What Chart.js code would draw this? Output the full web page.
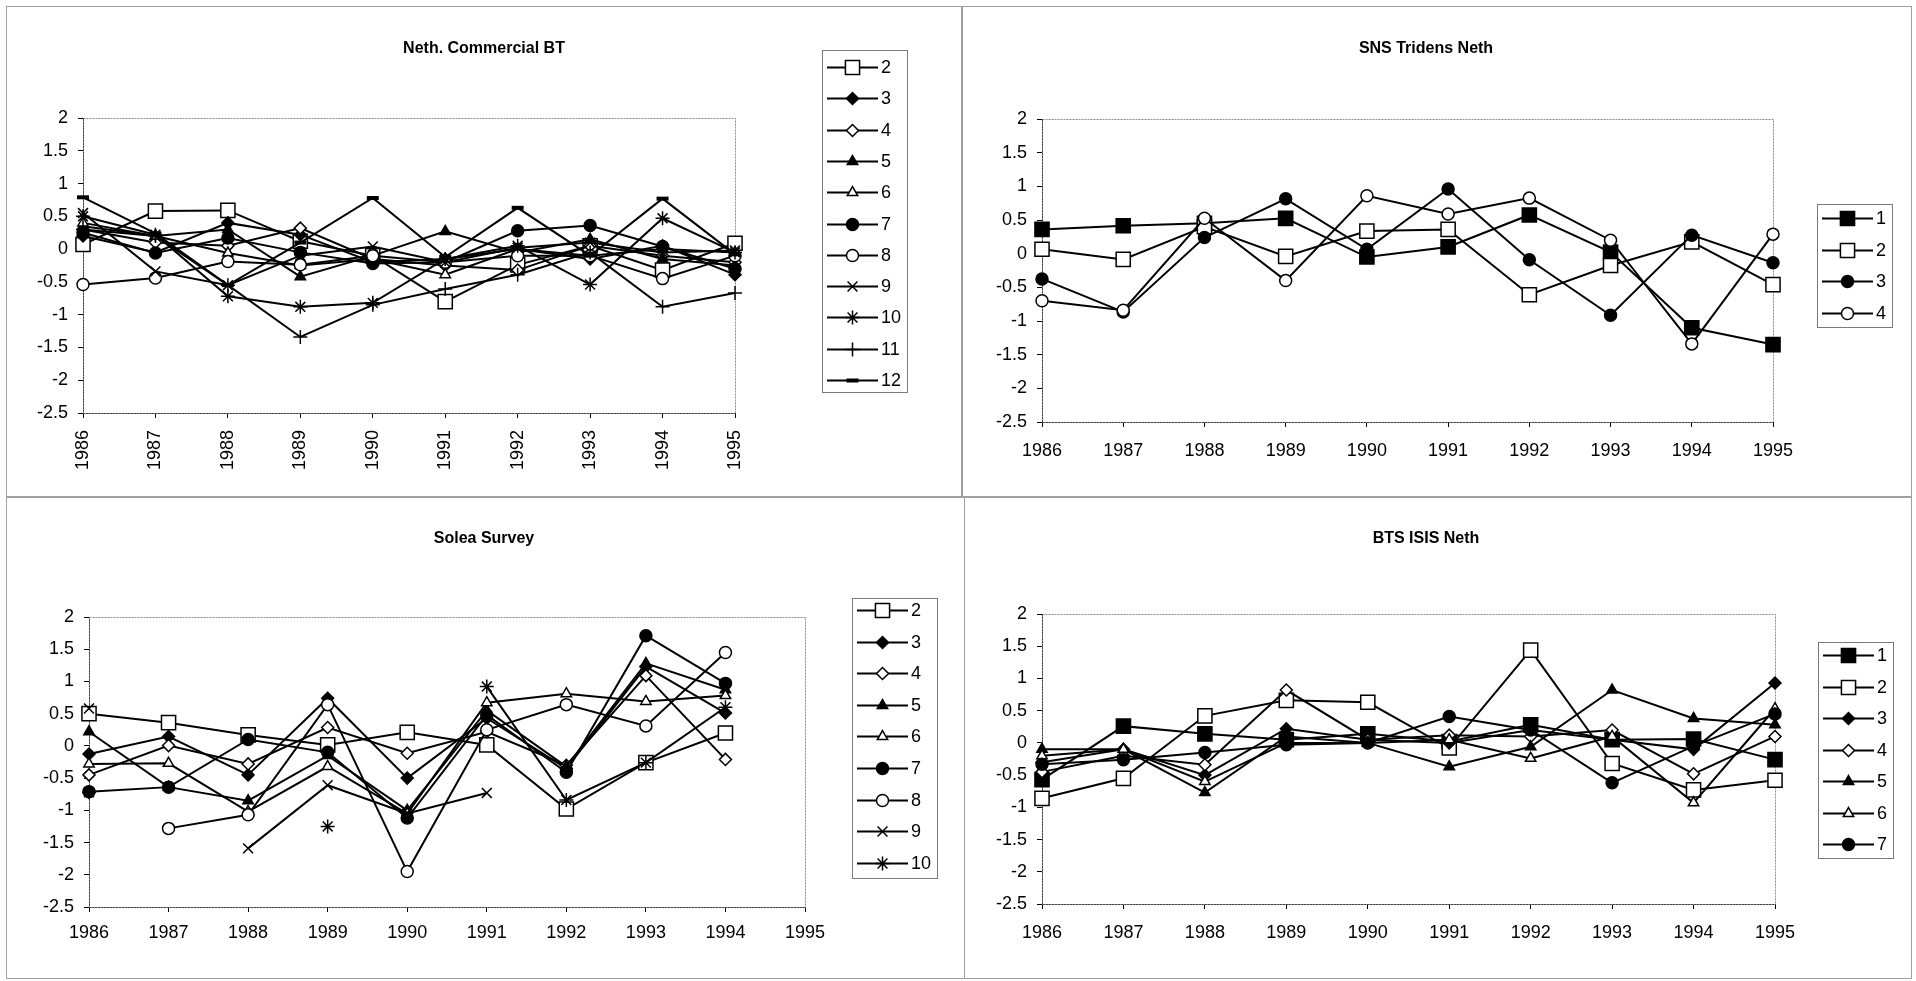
<!DOCTYPE html>
<html>
<head>
<meta charset="utf-8">
<script src="https://cdn.jsdelivr.net/npm/chart.js@4.4.1/dist/chart.umd.min.js"></script>
<style>
  html, body { margin: 0; padding: 0; background: #fff; width: 1916px; height: 981px; overflow: hidden; }
  .panel { position: absolute; }
  .frame { position: absolute; border: 1px solid #a0a0a0; box-sizing: border-box; }
  canvas { display: block; }
</style>
</head>
<body>
<div class="frame" style="left:6px;top:6px;width:956px;height:491px"></div>
<div class="frame" style="left:962px;top:6px;width:950px;height:491px"></div>
<div class="frame" style="left:6px;top:497px;width:959px;height:482px"></div>
<div class="frame" style="left:964px;top:497px;width:948px;height:482px"></div>

<div class="panel" style="left:0;top:0"><canvas id="cBT" width="961" height="496"></canvas></div>
<div class="panel" style="left:962px;top:0"><canvas id="cTR" width="954" height="496"></canvas></div>
<div class="panel" style="left:0;top:497px"><canvas id="cSol" width="961" height="484"></canvas></div>
<div class="panel" style="left:962px;top:497px"><canvas id="cISIS" width="954" height="484"></canvas></div>

<script>
// ---- categories and axis ----
const years = ['1986', '1987', '1988', '1989', '1990', '1991', '1992', '1993', '1994', '1995'];
const yMin = -2.5;
const yMax = 2;
const yStep = 0.5;

// ---- Neth. Commercial BT (ages 2..12) ----
const btLabels = ['2', '3', '4', '5', '6', '7', '8', '9', '10', '11', '12'];
const bt2  = [0.07, 0.58, 0.59, 0.12, -0.10, -0.80, -0.24, 0.05, -0.32, 0.09];
const bt3  = [0.20, -0.05, 0.40, 0.22, -0.20, -0.15, 0.00, -0.15, 0.05, -0.39];
const bt4  = [0.30, 0.10, 0.05, 0.32, -0.15, -0.25, -0.32, 0.05, -0.10, -0.20];
const bt5  = [0.35, 0.20, 0.30, -0.42, -0.10, 0.27, -0.05, 0.15, -0.15, -0.25];
const bt6  = [0.40, 0.20, -0.06, -0.25, -0.15, -0.39, 0.00, -0.10, 0.00, -0.05];
const bt7  = [0.25, -0.06, 0.17, -0.05, -0.22, -0.20, 0.28, 0.36, 0.04, -0.30];
const bt8  = [-0.54, -0.44, -0.19, -0.24, -0.10, -0.20, -0.10, -0.10, -0.45, -0.10];
const bt9  = [0.55, -0.34, -0.55, -0.10, 0.04, -0.20, 0.02, 0.10, -0.05, -0.02];
const bt10 = [0.50, 0.22, -0.72, -0.88, -0.82, -0.15, 0.05, -0.54, 0.47, -0.05];
const bt11 = [0.30, 0.20, -0.55, -1.34, -0.85, -0.61, -0.39, -0.05, -0.88, -0.67];
const bt12 = [0.79, 0.24, -0.55, 0.10, 0.78, -0.12, 0.63, -0.10, 0.77, -0.08];

// ---- SNS Tridens Neth (ages 1..4) ----
const trLabels = ['1', '2', '3', '4'];
const tr1 = [0.36, 0.415, 0.45, 0.525, -0.05, 0.10, 0.575, 0.025, -1.10, -1.35];
const tr2 = [0.065, -0.085, 0.40, -0.04, 0.335, 0.36, -0.61, -0.175, 0.175, -0.46];
const tr3 = [-0.375, -0.865, 0.24, 0.815, 0.065, 0.96, -0.09, -0.915, 0.275, -0.135];
const tr4 = [-0.70, -0.84, 0.525, -0.40, 0.86, 0.59, 0.825, 0.20, -1.34, 0.29];

// ---- Solea Survey (ages 2..10, no 1995 survey) ----
const solLabels = ['2', '3', '4', '5', '6', '7', '8', '9', '10'];
const sol2  = [0.50, 0.36, 0.17, 0.015, 0.21, 0.015, -0.98, -0.26, 0.20];
const sol3  = [-0.125, 0.145, -0.45, 0.74, -0.50, 0.43, -0.35, 1.23, 0.51];
const sol4  = [-0.45, 0.005, -0.28, 0.285, -0.115, 0.22, -0.30, 1.09, -0.21];
const sol5  = [0.22, -0.64, -0.85, -0.15, -1.00, 0.55, -0.32, 1.28, 0.87];
const sol6  = [-0.28, -0.27, -1.02, -0.32, -1.05, 0.67, 0.81, 0.69, 0.78];
const sol7  = [-0.71, -0.64, 0.10, -0.10, -1.12, 0.48, -0.41, 1.71, 0.97];
const sol8  = [null, -1.28, -1.07, 0.64, -1.95, 0.25, 0.64, 0.31, 1.45];
const sol9  = [0.58, null, -1.59, -0.61, -1.05, -0.73, null, null, null];
const sol10 = [-0.72, null, null, -1.25, null, 0.92, -0.84, -0.26, 0.60];

// ---- BTS ISIS Neth (ages 1..7) ----
const isLabels = ['1', '2', '3', '4', '5', '6', '7'];
const is1 = [-0.57, 0.26, 0.14, 0.05, 0.14, 0.02, 0.28, 0.05, 0.06, -0.26];
const is2 = [-0.86, -0.55, 0.42, 0.66, 0.63, -0.08, 1.44, -0.32, -0.73, -0.58];
const is3 = [-0.30, -0.10, -0.50, 0.22, 0.05, 0.00, 0.20, 0.05, -0.10, 0.93];
const is4 = [-0.45, -0.20, -0.34, 0.82, 0.05, 0.12, 0.10, 0.20, -0.48, 0.10];
const is5 = [-0.10, -0.10, -0.77, 0.10, 0.00, -0.37, -0.06, 0.82, 0.38, 0.28];
const is6 = [-0.20, -0.10, -0.60, 0.00, 0.00, 0.05, -0.24, 0.10, -0.93, 0.53];
const is7 = [-0.33, -0.26, -0.15, -0.03, 0.00, 0.41, 0.20, -0.62, -0.05, 0.45];

// ---- marker looks ----
const MARK = {
  sqFill:  { pointStyle: 'rect',      pointRadius: 10, pointBackgroundColor: '#000' },
  sqOpen:  { pointStyle: 'rect',      pointRadius: 10, pointBackgroundColor: '#fff' },
  diaFill: { pointStyle: 'rectRot',   pointRadius: 6,  pointBackgroundColor: '#000' },
  diaOpen: { pointStyle: 'rectRot',   pointRadius: 6,  pointBackgroundColor: '#fff' },
  triFill: { pointStyle: 'triangle',  pointRadius: 6,  pointBackgroundColor: '#000' },
  triOpen: { pointStyle: 'triangle',  pointRadius: 6,  pointBackgroundColor: '#fff' },
  cirFill: { pointStyle: 'circle',    pointRadius: 6,  pointBackgroundColor: '#000' },
  cirOpen: { pointStyle: 'circle',    pointRadius: 6,  pointBackgroundColor: '#fff' },
  xMark:   { pointStyle: 'crossRot',  pointRadius: 7,  pointBackgroundColor: '#000' },
  star:    { pointStyle: 'star',      pointRadius: 7,  pointBackgroundColor: '#000' },
  plus:    { pointStyle: 'cross',     pointRadius: 7,  pointBackgroundColor: '#000' },
  dash:    { pointStyle: 'line',      pointRadius: 6,  pointBackgroundColor: '#000', pointBorderWidth: 4 }
};

function series(labels, values, marks) {
  const n = labels.length;
  return labels.map((lab, i) => Object.assign({
    label: lab,
    data: values[i],
    borderColor: '#000',
    borderWidth: 2,
    pointBorderColor: '#000',
    pointBorderWidth: 1.5,
    tension: 0,
    spanGaps: false,
    order: n - i
  }, MARK[marks[i]]));
}

// ---- plot frame: grey outline of the plot area ----
const plotFrame = {
  id: 'plotFrame',
  beforeDatasetsDraw(chart) {
    const { ctx, chartArea: a } = chart;
    ctx.save();
    ctx.strokeStyle = '#8c8c8c';
    ctx.lineWidth = 1;
    ctx.setLineDash([2, 1]);
    ctx.strokeRect(Math.round(a.left) + 0.5, Math.round(a.top) + 0.5,
                   Math.round(a.right - a.left), Math.round(a.bottom - a.top));
    ctx.restore();
  }
};

// ---- chart title ----
const panelTitle = {
  id: 'panelTitle',
  afterDraw(chart, args, o) {
    const ctx = chart.ctx;
    ctx.save();
    ctx.font = 'bold 16px "Liberation Sans", Arial, sans-serif';
    ctx.fillStyle = '#000';
    ctx.textAlign = 'center';
    ctx.textBaseline = 'middle';
    ctx.fillText(o.text, o.x, o.y);
    ctx.restore();
  }
};

// ---- boxed legend: line with marker, then the series name ----
// o.x / o.y: box corner, o.w / o.h: box size, o.first / o.row: row centres
const boxLegend = {
  id: 'boxLegend',
  afterDraw(chart, args, o) {
    const ctx = chart.ctx;
    const x0 = o.x + 5, x1 = o.x + 56, tx = o.x + 59;
    ctx.save();
    ctx.strokeStyle = '#7a7a7a';
    ctx.lineWidth = 1;
    ctx.strokeRect(o.x + 0.5, o.y + 0.5, o.w, o.h);
    ctx.font = '18px "Liberation Sans", Arial, sans-serif';
    ctx.textBaseline = 'middle';
    ctx.textAlign = 'left';
    chart.data.datasets.forEach((ds, i) => {
      const y = Math.round(o.first + i * o.row) + 0.5;
      ctx.strokeStyle = '#000';
      ctx.lineWidth = 2;
      ctx.beginPath();
      ctx.moveTo(x0, y);
      ctx.lineTo(x1, y);
      ctx.stroke();
      ctx.fillStyle = ds.pointBackgroundColor;
      ctx.strokeStyle = '#000';
      ctx.lineWidth = ds.pointBorderWidth;
      Chart.helpers.drawPoint(ctx, {
        pointStyle: ds.pointStyle, radius: ds.pointRadius,
        borderWidth: ds.pointBorderWidth, rotation: 0
      }, (x0 + x1) / 2, y);
      ctx.fillStyle = '#000';
      ctx.fillText(ds.label, tx, y + 1);
    });
    ctx.restore();
  }
};

function makeChart(id, datasets, g) {
  const cv = document.getElementById(id);
  const W = cv.width, H = cv.height;
  const yW = 60;
  return new Chart(cv, {
    type: 'line',
    data: { labels: years, datasets },
    plugins: [plotFrame, panelTitle, boxLegend],
    options: {
      responsive: false,
      animation: false,
      devicePixelRatio: 1,
      layout: {
        padding: {
          left: g.l - yW,
          top: g.t,
          right: W - g.r,
          bottom: H - g.b - g.xH
        }
      },
      scales: {
        x: {
          type: 'category',
          offset: false,
          afterFit: s => { s.height = g.xH; },
          grid: { drawOnChartArea: false, drawTicks: true, tickLength: 5, color: '#000' },
          border: { color: '#000', width: 1 },
          ticks: {
            autoSkip: false,
            color: '#000',
            padding: g.xPad,
            minRotation: g.rot,
            maxRotation: g.rot,
            font: { family: '"Liberation Sans", Arial, sans-serif', size: 18 }
          }
        },
        y: {
          min: yMin,
          max: yMax,
          afterFit: s => { s.width = yW; },
          grid: { drawOnChartArea: false, drawTicks: true, tickLength: 5, color: '#000' },
          border: { color: '#000', width: 1 },
          ticks: {
            stepSize: yStep,
            color: '#000',
            padding: 10,
            callback: v => String(Math.round(v * 10) / 10),
            font: { family: '"Liberation Sans", Arial, sans-serif', size: 18 }
          }
        }
      },
      plugins: {
        legend: { display: false },
        tooltip: { enabled: false },
        title: { display: false },
        panelTitle: g.title,
        boxLegend: g.legend
      }
    }
  });
}

makeChart('cBT',
  series(btLabels, [bt2, bt3, bt4, bt5, bt6, bt7, bt8, bt9, bt10, bt11, bt12],
    ['sqOpen', 'diaFill', 'diaOpen', 'triFill', 'triOpen', 'cirFill', 'cirOpen', 'xMark', 'star', 'plus', 'dash']),
  { l: 83, r: 735, t: 118, b: 413, xH: 64, xPad: 12, rot: 90,
    title: { text: 'Neth. Commercial BT', x: 484, y: 49 },
    legend: { x: 822, y: 50, w: 85, h: 342, first: 67, row: 31.3 } });

makeChart('cTR',
  series(trLabels, [tr1, tr2, tr3, tr4], ['sqFill', 'sqOpen', 'cirFill', 'cirOpen']),
  { l: 80, r: 811, t: 119, b: 422, xH: 45, xPad: 13, rot: 0,
    title: { text: 'SNS Tridens Neth', x: 464, y: 49 },
    legend: { x: 855, y: 204, w: 75, h: 123, first: 218, row: 31.5 } });

makeChart('cSol',
  series(solLabels, [sol2, sol3, sol4, sol5, sol6, sol7, sol8, sol9, sol10],
    ['sqOpen', 'diaFill', 'diaOpen', 'triFill', 'triOpen', 'cirFill', 'cirOpen', 'xMark', 'star']),
  { l: 89, r: 805, t: 120, b: 410, xH: 45, xPad: 10, rot: 0,
    title: { text: 'Solea Survey', x: 484, y: 42 },
    legend: { x: 852, y: 101, w: 85, h: 280, first: 113, row: 31.6 } });

makeChart('cISIS',
  series(isLabels, [is1, is2, is3, is4, is5, is6, is7],
    ['sqFill', 'sqOpen', 'diaFill', 'diaOpen', 'triFill', 'triOpen', 'cirFill']),
  { l: 80, r: 813, t: 117, b: 407, xH: 45, xPad: 13, rot: 0,
    title: { text: 'BTS ISIS Neth', x: 464, y: 42 },
    legend: { x: 856, y: 145, w: 75, h: 216, first: 158, row: 31.5 } });
</script>
</body>
</html>
